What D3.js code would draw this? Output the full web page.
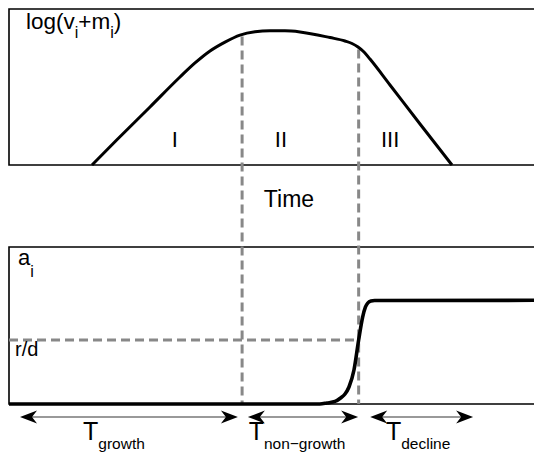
<!DOCTYPE html>
<html>
<head>
<meta charset="utf-8">
<script src="https://cdn.jsdelivr.net/npm/d3@7"></script>
<style>
  html, body { margin: 0; padding: 0; background: #fff; }
  svg { display: block; }
  text { font-family: "Liberation Sans", Arial, Helvetica, sans-serif; fill: #000; }
</style>
</head>
<body>
<svg id="chart" width="534" height="458"></svg>
<script>
// Time axis (arbitrary units) shared by both panels
const timeDomain = [0, 100];

// Upper panel: log(v_i + m_i) over time
const logTime  = [15.81, 20.51, 26.86, 32.57, 35.43, 38.29, 41.14, 44.0, 46.86, 49.71, 52.57, 55.43, 61.14, 64.0, 65.33, 66.48, 67.62, 68.76, 72.57, 78.29, 84.38];
const logValue = [0, 1.60, 3.72, 5.64, 6.54, 7.31, 7.88, 8.33, 8.54, 8.60, 8.60, 8.53, 8.17, 7.95, 7.79, 7.56, 7.24, 6.79, 5.13, 2.63, 0];
const logDomain = [0, 10];

// Lower panel: a_i over time (r/d = 1)
const aTime  = [0, 59.2, 60.57, 62.1, 63.16, 64.0, 64.76, 65.71, 66.6, 67.37, 67.9, 68.34, 68.95, 69.64, 100];
const aValue = [0, 0, 0.016, 0.04, 0.094, 0.156, 0.266, 0.531, 1.0, 1.36, 1.516, 1.578, 1.61, 1.617, 1.62];
const aDomain = [0, 2.453];
const rdLevel = 1;

// Phase boundaries (end of growth, end of non-growth)
const phaseBounds = [44.4, 66.6];
const phaseNames = ["I", "II", "III"];
const phaseNameTime = [31.6, 51.8, 72.6];

// Duration arrows below the time axis
const spanNames = ["growth", "non\u2212growth", "decline"];
const spanStart = [2.1, 45.5, 68.8];
const spanEnd   = [43.6, 66.5, 88.4];

const svg = d3.select("#chart");

const x = d3.scaleLinear().domain(timeDomain).range([9, 534]);
const yTop = d3.scaleLinear().domain(logDomain).range([165, 9]);
const yBot = d3.scaleLinear().domain(aDomain).range([404, 247]);

// panel frames (open to the right)
function frame(y0, y1) {
  svg.append("path")
    .attr("d", `M540,${y0}H${x(0)}V${y1}H540`)
    .attr("fill", "none").attr("stroke", "#000").attr("stroke-width", 1.6);
}
frame(yTop.range()[1], yTop.range()[0]);
frame(yBot.range()[1], yBot.range()[0]);

// interpolate the upper curve for the dashed guides
function logAt(t) {
  for (let i = 1; i < logTime.length; i++) {
    if (t <= logTime[i]) {
      const f = (t - logTime[i - 1]) / (logTime[i] - logTime[i - 1]);
      return logValue[i - 1] + f * (logValue[i] - logValue[i - 1]);
    }
  }
  return 0;
}

const dash = { stroke: "#888", width: 3, array: "9,5" };

// vertical guides at phase boundaries
phaseBounds.forEach(t => {
  svg.append("line")
    .attr("x1", x(t)).attr("x2", x(t))
    .attr("y1", yTop(logAt(t)) + 2).attr("y2", yBot(0))
    .attr("stroke", dash.stroke).attr("stroke-width", dash.width)
    .attr("stroke-dasharray", dash.array);
});

// r/d guide
svg.append("line")
  .attr("x1", x(0)).attr("x2", x(phaseBounds[1]))
  .attr("y1", yBot(rdLevel)).attr("y2", yBot(rdLevel))
  .attr("stroke", dash.stroke).attr("stroke-width", dash.width)
  .attr("stroke-dasharray", dash.array);

// curves
const topLine = d3.line()
  .x((d, i) => x(logTime[i])).y(d => yTop(d))
  .curve(d3.curveMonotoneX);
svg.append("path").attr("d", topLine(logValue))
  .attr("fill", "none").attr("stroke", "#000").attr("stroke-width", 3)
  .attr("stroke-linejoin", "round");

const botLine = d3.line()
  .x((d, i) => x(aTime[i])).y(d => yBot(d))
  .curve(d3.curveMonotoneX);
svg.append("path").attr("d", botLine(aValue))
  .attr("fill", "none").attr("stroke", "#000").attr("stroke-width", 3.6)
  .attr("stroke-linejoin", "round");

// phase numerals
phaseNames.forEach((n, i) => {
  svg.append("text").attr("x", x(phaseNameTime[i])).attr("y", 147)
    .attr("text-anchor", "middle").attr("font-size", 22).text(n);
});

// axis titles
const logLabel = svg.append("text").attr("x", 26).attr("y", 29).attr("font-size", 22.5);
logLabel.append("tspan").text("log(v");
logLabel.append("tspan").attr("dy", 9).attr("font-size", 16).text("i");
logLabel.append("tspan").attr("dy", -9).text("+m");
logLabel.append("tspan").attr("dy", 9).attr("font-size", 16).text("i");
logLabel.append("tspan").attr("dy", -9).text(")");

svg.append("text").attr("x", 289).attr("y", 207)
  .attr("text-anchor", "middle").attr("font-size", 23).text("Time");

const aLabel = svg.append("text").attr("x", 18).attr("y", 265).attr("font-size", 22);
aLabel.append("tspan").text("a");
aLabel.append("tspan").attr("dy", 12).attr("font-size", 16).text("i");

svg.append("text").attr("x", 15).attr("y", 356).attr("font-size", 20).text("r/d");

// double-headed duration arrows
const arrowY = 417;
function head(xt, dir) {
  const L = 17, W = 6.5, N = 5;
  return `M${xt},${arrowY}L${xt - dir * L},${arrowY - W}L${xt - dir * (L - N)},${arrowY}L${xt - dir * L},${arrowY + W}Z`;
}
const labelShift = [-15, -6, -3.5];
spanNames.forEach((name, i) => {
  const x0 = x(spanStart[i]), x1 = x(spanEnd[i]);
  svg.append("line").attr("x1", x0 + 8).attr("x2", x1 - 8)
    .attr("y1", arrowY).attr("y2", arrowY)
    .attr("stroke", "#777").attr("stroke-width", 1.5);
  svg.append("path").attr("d", head(x0, -1)).attr("fill", "#000");
  svg.append("path").attr("d", head(x1, 1)).attr("fill", "#000");
  const t = svg.append("text").attr("x", (x0 + x1) / 2 + labelShift[i]).attr("y", 440)
    .attr("text-anchor", "middle");
  t.append("tspan").attr("font-size", 25).text("T");
  t.append("tspan").attr("dy", 9).attr("font-size", 15.5).text(name);
});
</script>
</body>
</html>
